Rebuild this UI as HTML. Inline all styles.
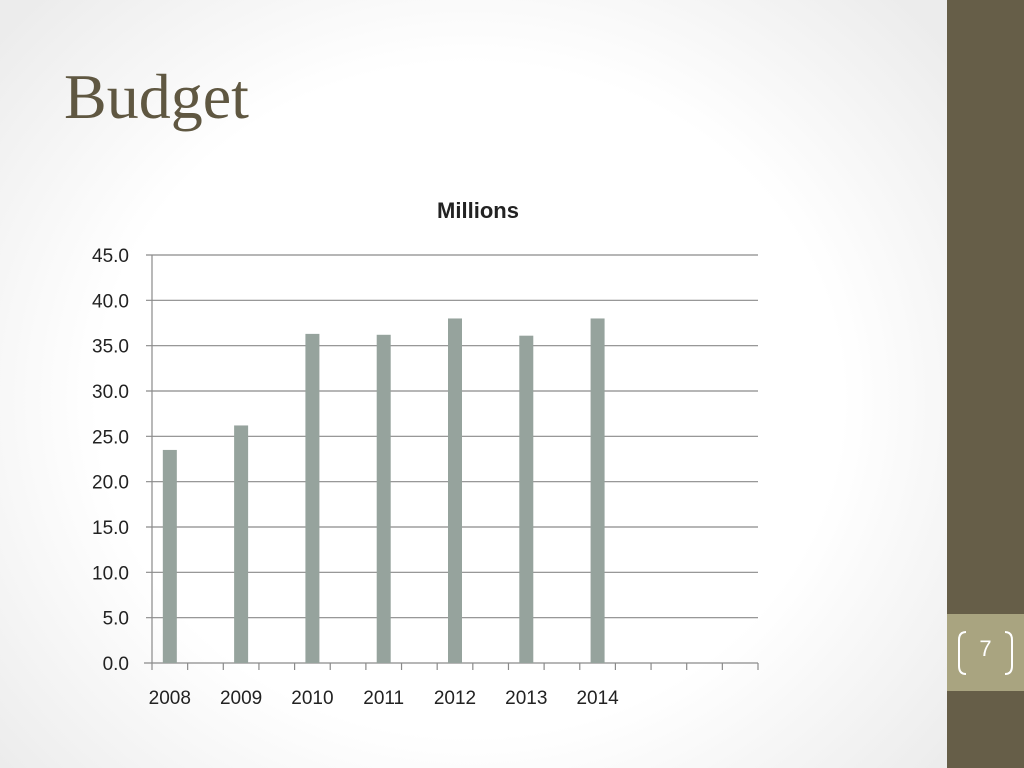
<!DOCTYPE html>
<html><head><meta charset="utf-8"><style>
body{margin:0;width:1024px;height:768px;overflow:hidden;position:relative;font-family:"Liberation Sans",sans-serif;
background:radial-gradient(ellipse 620px 560px at 470px 400px,#ffffff 60%,#ececec 100%);}
#side{position:absolute;left:947px;top:0;width:77px;height:768px;background:#665e48}
#num{position:absolute;left:947px;top:614px;width:77px;height:77px;background:#a9a480;color:#fff;font-size:22px;text-align:center;line-height:77px}
#title{position:absolute;left:64px;top:60px;font-family:"Liberation Serif",serif;font-size:64px;color:#5f5741}
</style></head><body>
<div id="side"></div>
<div id="num"><svg width="77" height="77" style="position:absolute;left:0;top:0"><path d="M19,18 Q12,18 12,26 L12,52 Q12,60 19,60" fill="none" stroke="#fff" stroke-width="2"/><path d="M58,18 Q65,18 65,26 L65,52 Q65,60 58,60" fill="none" stroke="#fff" stroke-width="2"/></svg><span style="position:relative;top:-4px">7</span></div>
<div id="title">Budget</div>
<svg id="chart" width="1024" height="768" style="position:absolute;left:0;top:0"></svg>
<script>
const categories=["2008","2009","2010","2011","2012","2013","2014"];
const values=[23.5,26.2,36.3,36.2,38.0,36.1,38.0];
const yTicks=[0,5,10,15,20,25,30,35,40,45];
const NS="http://www.w3.org/2000/svg";
const svg=document.getElementById('chart');
const x0=152,x1=758,yb=663,yt=255,ymax=45;
const y=v=>yb-(v/ymax)*(yb-yt);
const step=(x1-x0)/17;
const xc=i=>x0+step/2+i*2*step;
function mk(t,a){const e=document.createElementNS(NS,t);for(const k in a)e.setAttribute(k,a[k]);svg.appendChild(e);return e;}
const tt=mk('text',{x:478,y:218,'text-anchor':'middle','font-size':'22','font-weight':'bold',fill:'#222'});
tt.textContent='Millions';


yTicks.forEach(v=>{
 const l=mk('line',{x1:v===0?144:x0-6,x2:x1,y1:y(v),y2:y(v),stroke:'#8a8a8a','stroke-width':1.2});
 
 
 const t=mk('text',{x:129,y:y(v)+7,'text-anchor':'end','font-size':'19',fill:'#222'});
 t.textContent=v.toFixed(1);
 
 
});
mk('line',{x1:x0,x2:x0,y1:yt,y2:yb,stroke:'#8a8a8a','stroke-width':1.2});
for(let k=0;k<=17;k++){mk('line',{x1:x0+k*step,x2:x0+k*step,y1:yb,y2:yb+7,stroke:'#8a8a8a','stroke-width':1.2});}
categories.forEach((c,i)=>{
 const b=mk('rect',{x:xc(i)-7,y:y(values[i]),width:14,height:yb-y(values[i]),fill:'#96a39d'});
 
 
 const t=mk('text',{x:xc(i),y:704,'text-anchor':'middle','font-size':'19',fill:'#222'});
 t.textContent=c;
 
 
});
</script>
</body></html>
